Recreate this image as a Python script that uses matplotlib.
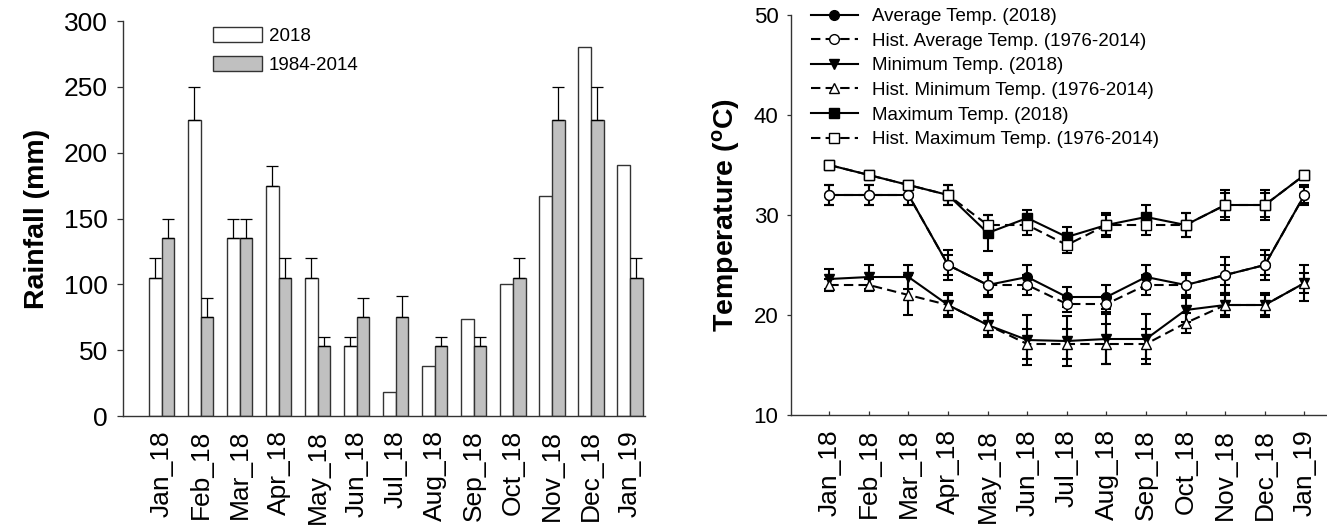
import numpy as np
import matplotlib
matplotlib.use('Agg')
import matplotlib.pyplot as plt

plt.rcParams['font.family'] = ['Liberation Sans', 'DejaVu Sans']
plt.rcParams['mathtext.fontset'] = 'custom'
plt.rcParams['mathtext.rm'] = 'Liberation Sans'
plt.rcParams['mathtext.bf'] = 'Liberation Sans:bold'

# Data
# ----------------------------------------------------------------------------------------------
months = ['Jan_18', 'Feb_18', 'Mar_18', 'Apr_18', 'May_18', 'Jun_18', 'Jul_18',
          'Aug_18', 'Sep_18', 'Oct_18', 'Nov_18', 'Dec_18', 'Jan_19']

# rainfall [mm]
rain_2018 = np.array([105, 225, 135, 175, 105, 53, 18, 38, 74, 100, 167, 280, 191])
rain_2018_err = np.array([15, 25, 15, 15, 15, 7, 0, 0, 0, 0, 0, 0, 0])
rain_hist = np.array([135, 75, 135, 105, 53, 75, 75, 53, 53, 105, 225, 225, 105])
rain_hist_err = np.array([15, 15, 15, 15, 7, 15, 16, 7, 7, 15, 25, 25, 15])

# temperature [C]
avg_2018 = np.array([32, 32, 32, 25, 23, 23.8, 21.8, 21.8, 23.8, 23, 24, 25, 32])
avg_2018_err = np.array([1, 1, 1, 1.5, 1.2, 1.2, 1, 1.2, 1.2, 1.2, 1.8, 1.5, 1])
avg_hist = np.array([32, 32, 32, 25, 23, 23, 21.1, 21.1, 23, 23, 24, 25, 32])
avg_hist_err = np.array([1, 1, 1, 1, 1, 1, 0.8, 0.8, 1, 1, 1, 1, 0.8])

min_2018 = np.array([23.6, 23.8, 23.8, 21, 19, 17.5, 17.4, 17.6, 17.6, 20.5, 21, 21, 23.2])
min_2018_err = np.array([1, 1.2, 1.2, 1.2, 1.2, 2.5, 2.5, 2.5, 2.5, 1.2, 1.2, 1.2, 1.8])
min_hist = np.array([23, 23, 22, 21, 19, 17.1, 17.1, 17.1, 17.1, 19.2, 21, 21, 23.2])
min_hist_err = np.array([0.6, 0.6, 2, 1, 1, 1.5, 1.5, 2, 1.5, 1, 1, 1, 1])

max_2018 = np.array([35, 34, 33, 32, 28.2, 29.7, 27.8, 29, 29.8, 29, 31, 31, 34])
max_2018_err = np.array([0, 0, 0, 1, 1.8, 0.8, 1, 1.2, 1.2, 1.2, 1.2, 1.2, 0])
max_hist = np.array([35, 34, 33, 32, 29, 29, 27, 29, 29, 29, 31, 31, 34])
max_hist_err = np.array([0, 0, 0, 1, 1, 1, 0.8, 1, 1, 1.2, 1.5, 1.5, 0])

x = np.arange(len(months))

fig = plt.figure(figsize=(13.27, 5.28), dpi=100)

# Left: rainfall bars
# ----------------------------------------------------------------------------------------------
ax1 = fig.add_axes([0.0927, 0.2121, 0.3934, 0.748])
w = 0.326
edge = '#333333'
ax1.bar(x - w/2, rain_2018, w, color='white', edgecolor=edge, lw=1, label='2018', zorder=2)
ax1.bar(x + w/2, rain_hist, w, color='#c0c0c0', edgecolor=edge, lw=1, label='1984-2014', zorder=2)

m = rain_2018_err > 0
ax1.errorbar(x[m] - w/2, rain_2018[m], yerr=[np.zeros(m.sum()), rain_2018_err[m]],
             fmt='none', ecolor='black', elinewidth=0.9, capsize=4, capthick=0.9, zorder=3)
m = rain_hist_err > 0
ax1.errorbar(x[m] + w/2, rain_hist[m], yerr=[np.zeros(m.sum()), rain_hist_err[m]],
             fmt='none', ecolor='black', elinewidth=0.9, capsize=4, capthick=0.9, zorder=3)

ax1.set_xlim(-0.99, 12.39)
ax1.set_ylim(0, 300)
ax1.set_yticks(np.arange(0, 301, 50))
ax1.set_xticks(x)
ax1.set_xticklabels(months, rotation=90, fontsize=19)
ax1.tick_params(axis='y', labelsize=19, length=4, width=0.9, pad=7, color=edge)
ax1.tick_params(axis='x', length=0, pad=10)
ax1.set_ylabel('Rainfall (mm)', fontsize=20.5, fontweight='bold')
ax1.yaxis.set_label_coords(-0.14, 0.5)
for s in ['top', 'right']:
    ax1.spines[s].set_visible(False)
for s in ['left', 'bottom']:
    ax1.spines[s].set_color(edge)
    ax1.spines[s].set_linewidth(1)
ax1.legend(loc='upper left', bbox_to_anchor=(0.173, 0.985), frameon=False, fontsize=13.5,
           handlelength=2.6, handleheight=0.85, handletextpad=0.35, labelspacing=0.57,
           borderpad=0, borderaxespad=0)

# Right: temperature lines
# ----------------------------------------------------------------------------------------------
ax2 = fig.add_axes([0.5961, 0.214, 0.4039, 0.7576])
dash = (0, (4.5, 2.5))
series = [
    (avg_2018, avg_2018_err, 'o', 'black', '-', 'Average Temp. (2018)', 7),
    (avg_hist, avg_hist_err, 'o', 'white', dash, 'Hist. Average Temp. (1976-2014)', 7),
    (min_2018, min_2018_err, 'v', 'black', '-', 'Minimum Temp. (2018)', 7.5),
    (min_hist, min_hist_err, '^', 'white', dash, 'Hist. Minimum Temp. (1976-2014)', 7.5),
    (max_2018, max_2018_err, 's', 'black', '-', 'Maximum Temp. (2018)', 6.5),
    (max_hist, max_hist_err, 's', 'white', dash, 'Hist. Maximum Temp. (1976-2014)', 6.5),
]
for vals, err, mk, face, ls, lab, ms in series:
    m = err > 0
    ax2.errorbar(x[m], vals[m], yerr=err[m], fmt='none', ecolor='black',
                 elinewidth=1.5, capsize=3.3, capthick=1.5, zorder=2)
    ax2.plot(x, vals, color='black', lw=1.5, ls=ls, marker=mk, mfc=face, mec='black',
             ms=ms, mew=1, label=lab, zorder=3 if face == 'black' else 4)

ax2.set_xlim(-0.967, 12.57)
ax2.set_ylim(10, 50)
ax2.set_yticks(np.arange(10, 51, 10))
ax2.set_xticks(x)
ax2.set_xticklabels(months, rotation=90, fontsize=19)
ax2.tick_params(axis='y', labelsize=16, length=3, width=0.9, pad=6, color=edge)
ax2.tick_params(axis='x', direction='in', length=3, width=0.9, pad=10, color=edge)
ax2.set_ylabel(r'Temperature ($\mathbf{^o}$C)', fontsize=20.5, fontweight='bold')
ax2.yaxis.set_label_coords(-0.092, 0.5)
for s in ['top', 'right']:
    ax2.spines[s].set_visible(False)
for s in ['left', 'bottom']:
    ax2.spines[s].set_color(edge)
    ax2.spines[s].set_linewidth(1)
ax2.legend(loc='upper left', bbox_to_anchor=(0.0373, 1.0175), frameon=False, fontsize=13.5,
           handlelength=2.5, handletextpad=0.73, labelspacing=0.4, numpoints=1,
           borderpad=0, borderaxespad=0)

fig.savefig('out.png', dpi=100)
